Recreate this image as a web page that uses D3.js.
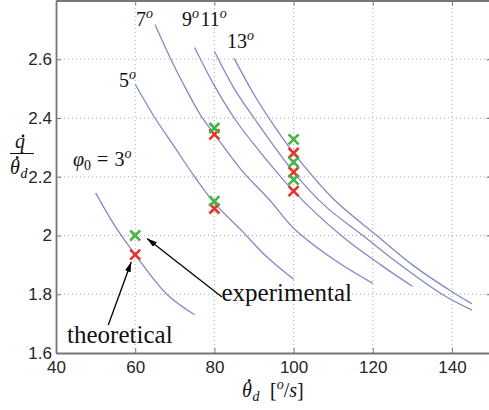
<!DOCTYPE html>
<html><head><meta charset="utf-8">
<script src="https://cdn.jsdelivr.net/npm/d3@7"></script>
<style>
body{margin:0;background:#fff}
svg{display:block}
.tick text{font-family:"Liberation Sans",Arial,sans-serif;font-size:17px;fill:#262626}
.lbl{font-family:"Liberation Serif","Times New Roman",serif;fill:#111}
</style></head><body>
<svg id="chart" width="489" height="410"></svg>
<script>
var xTicks = [40, 60, 80, 100, 120, 140];
var yTicks = [1.6, 1.8, 2, 2.2, 2.4, 2.6];

// curves: [theta_d, qdot/theta_d]
var curve3 = [[50,2.145],[55,2.03],[60,1.935],[68,1.80],[75,1.73]];
var curve5 = [[60,2.515],[65,2.40],[70,2.30],[75,2.20],[80,2.11],[87,2.015],[93,1.93],[100,1.851]];
var curve7 = [[65,2.718],[69,2.6],[72,2.52],[76.5,2.41],[80,2.345],[87,2.22],[94,2.12],[100,2.025],[110,1.92],[120,1.837]];
var curve9 = [[75,2.64],[80,2.51],[85,2.40],[90,2.31],[100,2.151],[112,2.0],[122,1.9],[130,1.827]];
var curve11 = [[80,2.627],[85,2.5],[90,2.40],[100,2.216],[108,2.10],[117.5,2.0],[126,1.91],[137.5,1.80],[145,1.746]];
var curve13 = [[85,2.603],[90,2.48],[95,2.375],[100,2.281],[110,2.125],[121,2.0],[130,1.9],[141,1.8],[145,1.768]];
var curves = [curve3, curve5, curve7, curve9, curve11, curve13];

var theoretical = [[60,1.935],[80,2.092],[80,2.344],[100,2.151],[100,2.216],[100,2.281]];
var experimental = [[60,2.0],[80,2.117],[80,2.366],[100,2.19],[100,2.25],[100,2.327]];

// angle labels: [number, is phi_0 label, theta_d, value]
var angleLabels = [["3",true,44.3,2.235],["5",false,55.9,2.504],["7",false,60.2,2.712],
                   ["9",false,71.8,2.712],["11",false,76.5,2.712],["13",false,83.2,2.637]];

var x = d3.scaleLinear().domain([40, 150]).range([56, 491.6]);
var y = d3.scaleLinear().domain([1.6, 2.8]).range([353, 0.5]);

var svg = d3.select("#chart");

// grid
svg.append("g").selectAll("line").data(xTicks.slice(1)).enter().append("line")
    .attr("x1", d => x(d)).attr("x2", d => x(d)).attr("y1", y(1.6)).attr("y2", y(2.8))
    .attr("stroke", "#aaa").attr("stroke-width", 1).attr("stroke-dasharray", "1,3");
svg.append("g").selectAll("line").data(yTicks.slice(1)).enter().append("line")
    .attr("y1", d => y(d)).attr("y2", d => y(d)).attr("x1", x(40)).attr("x2", x(150))
    .attr("stroke", "#aaa").attr("stroke-width", 1).attr("stroke-dasharray", "1,3");

// axes (ticks inside, matlab style)
var axisCol = "#777";
function styleAxis(g) {
    g.select(".domain").attr("stroke", axisCol).attr("stroke-width", 1.8);
    g.selectAll(".tick line").attr("stroke", axisCol).attr("stroke-width", 1);
}
svg.append("g").attr("transform", "translate(0," + y(1.6) + ")")
    .call(d3.axisBottom(x).tickValues(xTicks).tickFormat(d3.format("d")).tickSizeInner(-5).tickSizeOuter(0).tickPadding(8))
    .call(styleAxis);
svg.append("g").attr("transform", "translate(0," + y(2.8) + ")")
    .call(d3.axisTop(x).tickValues(xTicks).tickFormat("").tickSizeInner(-5).tickSizeOuter(0))
    .call(styleAxis);
svg.append("g").attr("transform", "translate(" + x(40) + ",0)")
    .call(d3.axisLeft(y).tickValues(yTicks).tickFormat(d3.format("~g")).tickSizeInner(-5).tickSizeOuter(0).tickPadding(4))
    .call(styleAxis);
svg.append("g").attr("transform", "translate(" + x(150) + ",0)")
    .call(d3.axisRight(y).tickValues(yTicks).tickFormat("").tickSizeInner(-5).tickSizeOuter(0))
    .call(styleAxis);
svg.selectAll(".tick text").attr("font-family", null).attr("font-size", null);

// curves
var line = d3.line().x(d => x(d[0])).y(d => y(d[1])).curve(d3.curveCatmullRom.alpha(0.5));
svg.append("g").selectAll("path").data(curves).enter().append("path")
    .attr("d", line).attr("fill", "none").attr("stroke", "#8289c4").attr("stroke-width", 1.3);

// cross markers
function crosses(data, col) {
    var s = 5;
    svg.append("g").selectAll("path").data(data).enter().append("path")
        .attr("d", function (d) {
            var cx = x(d[0]), cy = y(d[1]);
            return "M" + (cx - s) + "," + (cy - s) + "L" + (cx + s) + "," + (cy + s) +
                   "M" + (cx - s) + "," + (cy + s) + "L" + (cx + s) + "," + (cy - s);
        })
        .attr("stroke", col).attr("stroke-width", 2.6).attr("fill", "none");
}
crosses(theoretical, "#e8332c");
crosses(experimental, "#45b445");

// angle labels
var lab = svg.append("g").attr("class", "lbl").attr("font-size", 20);
angleLabels.forEach(function (a) {
    var t = lab.append("text").attr("x", x(a[2])).attr("y", y(a[3]));
    if (a[1]) {
        t.append("tspan").attr("font-style", "italic").text("\u03c6");
        t.append("tspan").attr("font-size", 14).attr("dy", 4).text("0");
        t.append("tspan").attr("dy", -4).attr("dx", 6).text("=");
        t.append("tspan").attr("dx", 6).text(a[0]);
    } else {
        t.append("tspan").text(a[0]);
    }
    t.append("tspan").attr("font-style", "italic").attr("font-size", 14).attr("dy", -8).text("o");
});

// annotations
svg.append("defs").append("marker").attr("id", "ah").attr("viewBox", "0 0 10 6")
    .attr("refX", 10).attr("refY", 3).attr("markerWidth", 10).attr("markerHeight", 6)
    .attr("markerUnits", "userSpaceOnUse").attr("orient", "auto")
    .append("path").attr("d", "M0,0L10,3L0,6Z").attr("fill", "#000");
var arrows = [[[53.2,1.695],[59.0,1.91]], [[81.9,1.791],[63.0,1.99]]];
svg.append("g").selectAll("line").data(arrows).enter().append("line")
    .attr("x1", d => x(d[0][0])).attr("y1", d => y(d[0][1]))
    .attr("x2", d => x(d[1][0])).attr("y2", d => y(d[1][1]))
    .attr("stroke", "#000").attr("stroke-width", 1.3).attr("marker-end", "url(#ah)");
svg.append("text").attr("class", "lbl").attr("font-size", 25)
    .attr("x", x(42.8)).attr("y", y(1.633)).text("theoretical");
svg.append("text").attr("class", "lbl").attr("font-size", 25)
    .attr("x", x(81.8)).attr("y", y(1.776)).text("experimental");

// dotted theta symbol: italic theta with a small dot above
function thetaDot(g, px, py, size) {
    g.append("text").attr("x", px).attr("y", py).attr("font-style", "italic").attr("font-size", size).text("\u03b8");
    g.append("circle").attr("cx", px + size * 0.36).attr("cy", py - size * 0.82).attr("r", size * 0.07).attr("fill", "#111");
    g.append("text").attr("x", px + size * 0.52).attr("y", py + 4).attr("font-style", "italic").attr("font-size", size * 0.7).text("d");
}

// axis labels
var xg = svg.append("g").attr("class", "lbl");
thetaDot(xg, 242, 397, 20);
var xl = xg.append("text").attr("font-size", 20).attr("x", 270).attr("y", 397);
xl.append("tspan").text("[");
xl.append("tspan").attr("font-style", "italic").attr("font-size", 14).attr("dy", -8).text("o");
xl.append("tspan").attr("dy", 8).text("/");
xl.append("tspan").attr("font-style", "italic").text("s");
xl.append("tspan").text("]");

var yl = svg.append("g").attr("class", "lbl");
yl.append("text").attr("x", 15).attr("y", 148).attr("font-size", 20).attr("font-style", "italic").text("q");
yl.append("circle").attr("cx", 23).attr("cy", 136).attr("r", 1.4).attr("fill", "#111");
yl.append("line").attr("x1", 10).attr("x2", 34).attr("y1", 153.5).attr("y2", 153.5).attr("stroke", "#111").attr("stroke-width", 1);
thetaDot(yl, 10, 174, 20);
</script>
</body></html>
